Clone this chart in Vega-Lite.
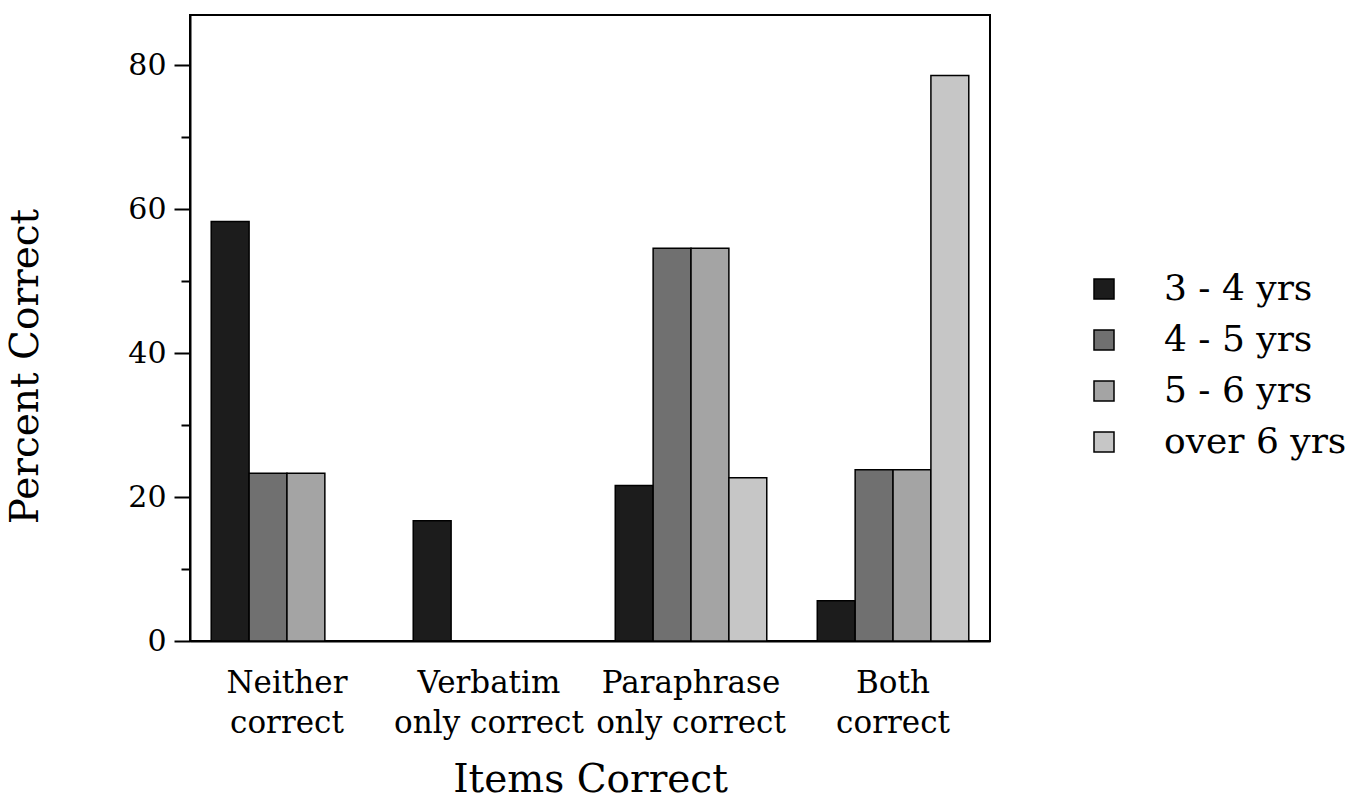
{
  "$schema": "https://vega.github.io/schema/vega-lite/v6.json",
  "width": 800,
  "height": 626,
  "autosize": "none",
  "padding": {"left": 190, "top": 15, "right": 376, "bottom": 164},
  "background": "white",
  "config": {
    "font": "DejaVu Serif",
    "view": {"stroke": "black", "strokeWidth": 2}
  },
  "data": {
    "values": [
      {"item": "Neither|correct", "age": "3 - 4 yrs", "pct": 58.3},
      {"item": "Neither|correct", "age": "4 - 5 yrs", "pct": 23.3},
      {"item": "Neither|correct", "age": "5 - 6 yrs", "pct": 23.3},
      {"item": "Verbatim|only correct", "age": "3 - 4 yrs", "pct": 16.7},
      {"item": "Paraphrase|only correct", "age": "3 - 4 yrs", "pct": 21.6},
      {"item": "Paraphrase|only correct", "age": "4 - 5 yrs", "pct": 54.6},
      {"item": "Paraphrase|only correct", "age": "5 - 6 yrs", "pct": 54.6},
      {"item": "Paraphrase|only correct", "age": "over 6 yrs", "pct": 22.7},
      {"item": "Both|correct", "age": "3 - 4 yrs", "pct": 5.6},
      {"item": "Both|correct", "age": "4 - 5 yrs", "pct": 23.8},
      {"item": "Both|correct", "age": "5 - 6 yrs", "pct": 23.8},
      {"item": "Both|correct", "age": "over 6 yrs", "pct": 78.6}
    ]
  },
  "mark": {"type": "bar", "stroke": "black", "strokeWidth": 1.5},
  "encoding": {
    "x": {
      "field": "item",
      "type": "nominal",
      "sort": ["Neither|correct", "Verbatim|only correct", "Paraphrase|only correct", "Both|correct"],
      "scale": {"paddingInner": 0.25, "paddingOuter": 0.105},
      "axis": {
        "title": "Items Correct",
        "titleFontSize": 39,
        "titleFontWeight": "normal",
        "titlePadding": 22,
        "labelExpr": "split(datum.label, '|')",
        "labelAngle": 0,
        "labelFontSize": 31,
        "labelLineHeight": 40,
        "labelPadding": 27,
        "labelLimit": 400,
        "labelColor": "black",
        "ticks": false,
        "domainColor": "black",
        "domainWidth": 2
      }
    },
    "xOffset": {
      "field": "age",
      "type": "nominal",
      "scale": {"domain": ["3 - 4 yrs", "4 - 5 yrs", "5 - 6 yrs", "over 6 yrs"], "paddingInner": 0, "paddingOuter": 0}
    },
    "y": {
      "field": "pct",
      "type": "quantitative",
      "scale": {"domain": [0, 87], "nice": false},
      "axis": {
        "title": "Percent Correct",
        "titleFontSize": 39,
        "titleFontWeight": "normal",
        "titlePadding": 82,
        "titleY": 351,
        "values": [0, 10, 20, 30, 40, 50, 60, 70, 80],
        "labelExpr": "datum.value % 20 === 0 ? datum.label : ''",
        "labelFontSize": 30,
        "labelColor": "black",
        "labelPadding": 8,
        "tickSize": {"condition": {"test": "datum.value % 20 === 0", "value": 16}, "value": 9},
        "tickColor": "black",
        "tickWidth": 2,
        "domainColor": "black",
        "domainWidth": 2,
        "grid": false
      }
    },
    "fill": {
      "field": "age",
      "type": "nominal",
      "scale": {
        "domain": ["3 - 4 yrs", "4 - 5 yrs", "5 - 6 yrs", "over 6 yrs"],
        "range": ["#1c1c1c", "#707070", "#a4a4a4", "#c6c6c6"]
      },
      "legend": {
        "title": null,
        "orient": "none",
        "legendX": 896,
        "legendY": 256,
        "symbolType": "square",
        "symbolSize": 400,
        "symbolStrokeColor": "black",
        "symbolStrokeWidth": 1.5,
        "labelFontSize": 36,
        "labelColor": "black",
        "labelOffset": 42,
        "rowPadding": 15,
        "labelLimit": 300
      }
    }
  }
}
